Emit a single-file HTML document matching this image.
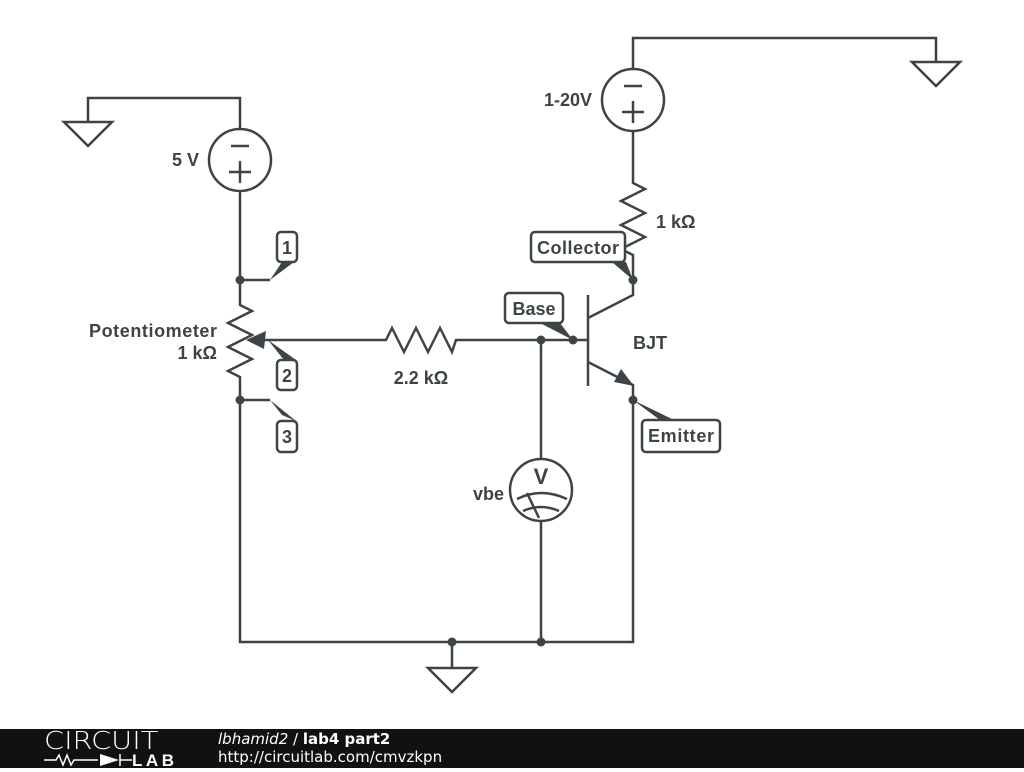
<!DOCTYPE html>
<html><head><meta charset="utf-8"><style>
html,body{margin:0;padding:0;background:#fff;}
body{width:1024px;height:768px;position:relative;overflow:hidden;font-family:"Liberation Sans",sans-serif;}
#foot{position:absolute;left:0;top:729px;width:1024px;height:39px;background:#111;}
</style></head><body>
<svg width="1024" height="729" viewBox="0 0 1024 729" xmlns="http://www.w3.org/2000/svg" style="position:absolute;left:0;top:0">
<g stroke="#3d4447" stroke-width="2.5" fill="none" stroke-linejoin="miter">
<polyline points="88,122 88,98 240,98 240,129"/>
<polygon points="64,122 112,122 88,146"/>
<circle cx="240" cy="160" r="31"/>
<line x1="231" y1="146" x2="249" y2="146"/>
<line x1="229" y1="172" x2="251" y2="172"/><line x1="240" y1="161" x2="240" y2="183"/>
<polyline points="240,191 240,305 252,311 228,323 252,335 228,347 252,359 228,371 240,377 240,642 633,642 633,400"/>
<polyline points="240,280 270,280"/>
<polyline points="240,400 270,400"/>
<polyline points="262,340 386,340 392,328 404,352 416,328 428,352 440,328 452,352 456,340 588,340"/>
<line x1="588" y1="295" x2="588" y2="386"/>
<polyline points="588,318 633,295 633,255 621,249 645,237 621,225 645,213 621,201 645,189 633,183 633,131"/>
<circle cx="633" cy="100" r="31"/>
<line x1="624" y1="86" x2="642" y2="86"/>
<line x1="622" y1="112" x2="644" y2="112"/><line x1="633" y1="101" x2="633" y2="123"/>
<polyline points="633,69 633,38 936,38 936,62"/>
<polygon points="912,62 960,62 936,86"/>
<polyline points="588,362 633,385 633,400"/>
<line x1="541" y1="340" x2="541" y2="459"/>
<line x1="541" y1="521" x2="541" y2="642"/>
<circle cx="541" cy="490" r="31"/>
<path d="M517,499 Q541,487 567,499"/>
<path d="M523,511 Q541,503 559,511"/>
<line x1="527" y1="493" x2="539" y2="518"/>
<polyline points="452,642 452,668"/>
<polygon points="428,668 476,668 452,692"/>
</g>
<g fill="#3d4447" stroke="none">
<polygon points="246,340 266,331 264,349"/>
<polygon points="634,386 614,382 621,369"/>
<circle cx="240" cy="280" r="4.5"/><circle cx="240" cy="400" r="4.5"/>
<circle cx="541" cy="340" r="4.5"/><circle cx="573" cy="340" r="4.5"/>
<circle cx="633" cy="280" r="4.5"/><circle cx="633" cy="400" r="4.5"/>
<circle cx="452" cy="642" r="4.5"/><circle cx="541" cy="642" r="4.5"/>
<polygon points="270,280 282,262 294,262"/>
<polygon points="268,340 284,360 296,360"/>
<polygon points="270,400 282,415 296,421"/>
<polygon points="633,280 612,262 626,262"/>
<polygon points="573,340 540,323 560,323"/>
<polygon points="633,400 660,420 674,420"/>
</g>
<g stroke="#3d4447" stroke-width="2.5" fill="#fff">
<rect x="277" y="232" width="20" height="30" rx="4"/>
<rect x="277" y="360" width="20" height="30" rx="4"/>
<rect x="277" y="421" width="20" height="31" rx="4"/>
<rect x="531" y="232" width="94" height="30" rx="4"/>
<rect x="505" y="293" width="58" height="30" rx="4"/>
<rect x="642" y="420" width="78" height="32" rx="4"/>
</g>
<g fill="#3d4447" font-family="Liberation Sans, sans-serif" font-weight="bold" font-size="18">
<text x="172" y="166">5 V</text>
<text x="544" y="106">1-20V</text>
<text x="656" y="228">1 kΩ</text>
<text x="217" y="337" text-anchor="end" textLength="128">Potentiometer</text>
<text x="217" y="359" text-anchor="end">1 kΩ</text>
<text x="421" y="384" text-anchor="middle">2.2 kΩ</text>
<text x="633" y="349">BJT</text>
<text x="504" y="500" text-anchor="end">vbe</text>
<text x="287" y="254" text-anchor="middle">1</text>
<text x="287" y="382" text-anchor="middle">2</text>
<text x="287" y="443" text-anchor="middle">3</text>
<text x="578" y="254" text-anchor="middle" textLength="82">Collector</text>
<text x="534" y="315" text-anchor="middle">Base</text>
<text x="681" y="442" text-anchor="middle" textLength="66">Emitter</text>
<text x="541" y="484" text-anchor="middle" font-size="22">V</text>
</g>
</svg>
<div id="foot">
<div style="position:absolute;left:44px;top:-2px;color:#fff;font-family:'DejaVu Sans',sans-serif;font-size:25px;font-weight:200;letter-spacing:0px;line-height:28px;transform:scaleX(1.15);transform-origin:left;">CIRCUIT</div>
<div style="position:absolute;left:44px;top:22px;width:135px;height:16px;">
<svg width="135" height="16"><g stroke="#fff" stroke-width="1.5" fill="none"><polyline points="0,9 12,9 15,4 19,14 23,4 27,14 30,9 54,9"/><line x1="76" y1="3" x2="76" y2="15"/><line x1="76" y1="9" x2="88" y2="9"/></g><polygon points="56,3 56,15 75,9" fill="#fff"/><text x="88" y="15" fill="#fff" font-family="Liberation Sans" font-weight="bold" font-size="17" textLength="42">LAB</text></svg>
</div>
<div style="position:absolute;left:218px;top:1px;color:#fff;font-family:'DejaVu Sans',sans-serif;font-size:15px;"><i>lbhamid2</i> / <b>lab4 part2</b></div>
<div style="position:absolute;left:218px;top:19px;color:#fff;font-family:'DejaVu Sans',sans-serif;font-size:15px;">http://circuitlab.com/cmvzkpn</div>
</div>
</body></html>
